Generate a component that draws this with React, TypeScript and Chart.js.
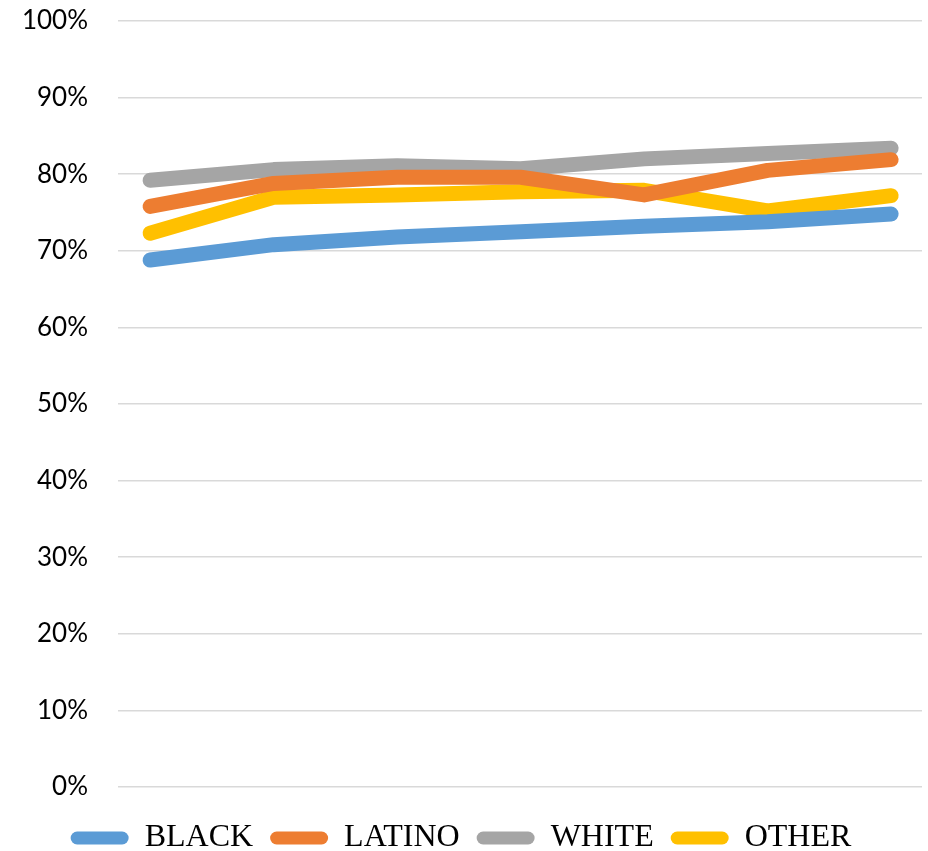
import React, { useEffect, useRef } from "react";
import { Chart, registerables } from "chart.js";

Chart.register(...registerables);

const categories = ["1", "2", "3", "4", "5", "6", "7"];
const black = [68.8, 70.8, 71.8, 72.5, 73.2, 73.8, 74.8];
const latino = [75.8, 78.8, 79.6, 79.6, 77.3, 80.5, 81.9];
const white = [79.2, 80.6, 81.1, 80.7, 82.0, 82.7, 83.4];
const other = [72.3, 77.0, 77.3, 77.7, 77.9, 75.2, 77.2];
const yTicks = [0, 10, 20, 30, 40, 50, 60, 70, 80, 90, 100];

const seriesNames = ["BLACK", "LATINO", "WHITE", "OTHER"];
const seriesValues = [black, latino, white, other];
const seriesColors = ["#5B9BD5", "#ED7D31", "#A5A5A5", "#FFC000"];

const legendShift = {
  id: "legendShift",
  afterLayout(chart: any) {
    const lg = chart.legend;
    if (lg) {
      lg.top += 18;
      lg.bottom += 18;
    }
  },
};

export default function App() {
  const ref = useRef<HTMLCanvasElement | null>(null);
  useEffect(() => {
    document.body.style.margin = "0";
    const ctx = ref.current!;
    const chart = new Chart(ctx, {
      type: "line",
      data: {
        labels: categories,
        datasets: seriesNames.map((name, si) => ({
          label: name,
          data: seriesValues[si].map((v, i) => ({ x: i, y: v })),
          borderColor: seriesColors[si],
          backgroundColor: seriesColors[si],
          borderWidth: 15,
          pointRadius: 0,
          borderCapStyle: "round" as const,
          borderJoinStyle: "round" as const,
          tension: 0,
        })),
      },
      plugins: [legendShift],
      options: {
        animation: false,
        responsive: false,
        maintainAspectRatio: false,
        layout: { padding: { top: 0, right: 6, left: 0, bottom: 5 } },
        scales: {
          x: {
            type: "linear",
            min: -0.26,
            max: 6.25,
            display: false,
          },
          y: {
            min: 0,
            max: 100,
            afterFit: (s: any) => {
              s.width = 118;
              s.paddingTop = 21;
              s.paddingBottom = 16;
            },
            afterBuildTicks: (s: any) => {
              s.ticks = yTicks.map((v) => ({ value: v }));
            },
            border: { display: false },
            grid: { color: "#D9D9D9", lineWidth: 1.5, drawTicks: false },
            ticks: {
              padding: 30,
              color: "#000",
              font: { family: "Lato", size: 26 },
              callback: (v: any) => `${v}%`,
            },
          },
        },
        plugins: {
          tooltip: { enabled: false },
          legend: {
            position: "bottom",
            labels: {
              boxWidth: 58,
              boxHeight: 13,
              useBorderRadius: true,
              borderRadius: 6.5,
              padding: 17,
              color: "#000",
              font: { family: "Liberation Serif", size: 32 },
              generateLabels: (c: any) =>
                Chart.defaults.plugins.legend.labels
                  .generateLabels(c)
                  .map((l: any) => ({ ...l, lineWidth: 0 })),
            },
          },
        },
      },
    });
    return () => chart.destroy();
  }, []);
  return (
    <div style={{ position: "fixed", left: 0, top: 0, width: 928, height: 851 }}>
      <canvas ref={ref} width={928} height={851} style={{ width: 928, height: 851 }} />
    </div>
  );
}
